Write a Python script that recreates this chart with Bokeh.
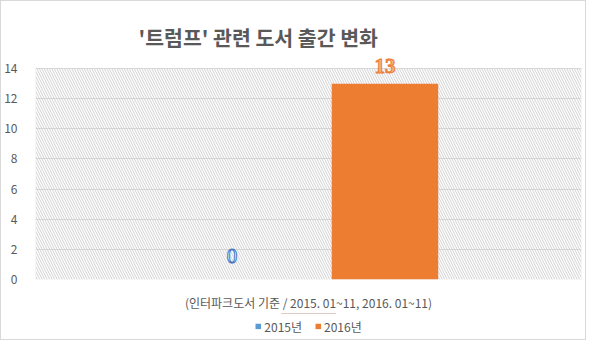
from bokeh.plotting import figure
from bokeh.layouts import column
from bokeh.models import (FactorRange, Legend, LegendItem, BoxAnnotation, ColumnDataSource,
                          FixedTicker, LabelSet)
from bokeh.transform import dodge
from bokeh.embed import file_html
from bokeh.resources import INLINE

title = "'트럼프' 관련 도서 출간 변화"
category = ["(인터파크도서 기준 / 2015. 01~11, 2016. 01~11)"]
series_names = ["2015년", "2016년"]
values_2015 = [0]
values_2016 = [13]
y_ticks = [0, 2, 4, 6, 8, 10, 12, 14]

FONT = "Noto Sans CJK KR"
GRAY = "#595959"
BLUE = "#5b9bd5"
ORANGE = "#ed7d31"

src = ColumnDataSource(dict(cat=category, v15=values_2015, v16=values_2016,
                            l15=[str(v) for v in values_2015],
                            l16=[str(v) for v in values_2016]))

y_max = y_ticks[-1]

p = figure(width=584, height=312, x_range=FactorRange(*category), y_range=(0, y_max + 1),
           output_backend="svg", toolbar_location=None, title=title,
           min_border_left=29, min_border_right=4, min_border_top=52, min_border_bottom=30)

p.title.align = "left"
p.title.offset = 103
p.title.text_font = FONT
p.title.text_font_size = "20.5px"
p.title.text_font_style = "bold"
p.title.text_color = GRAY
p.title.standoff = 4

p.outline_line_color = None
p.background_fill_color = "white"
p.border_fill_color = "white"

hatch = BoxAnnotation(bottom=0, top=y_max, fill_color=None, line_color="#d9d9d9", line_width=1,
                      hatch_pattern="\\", hatch_color="#cccccc", hatch_scale=5, hatch_weight=0.9,
                      level="underlay")
p.add_layout(hatch)

p.ygrid.grid_line_color = "#d9d9d9"
p.ygrid.grid_line_width = 1
p.xgrid.grid_line_color = None

r15 = p.vbar(x=dodge("cat", -0.14, range=p.x_range), top="v15", width=0.195,
             source=src, fill_color=BLUE, line_color=None)
r16 = p.vbar(x=dodge("cat", 0.14, range=p.x_range), top="v16", width=0.195,
             source=src, fill_color=ORANGE, line_color=None)

lab15 = LabelSet(x=dodge("cat", -0.14, range=p.x_range), y="v15", text="l15", source=src,
                 text_align="center", text_baseline="bottom", y_offset=17,
                 text_font="DejaVu Serif", text_font_size="21px",
                 text_color="white", text_outline_color="#4472c4")
lab16 = LabelSet(x=dodge("cat", 0.14, range=p.x_range), y="v16", text="l16", source=src,
                 text_align="center", text_baseline="bottom", y_offset=11,
                 text_font="DejaVu Serif", text_font_size="21px", text_font_style="bold",
                 text_color="#f4b183", text_outline_color=ORANGE)
p.add_layout(lab15)
p.add_layout(lab16)

p.yaxis.ticker = FixedTicker(ticks=y_ticks)
p.yaxis.axis_line_color = None
p.yaxis.major_tick_line_color = None
p.yaxis.minor_tick_line_color = None
p.yaxis.major_label_text_font = FONT
p.yaxis.major_label_text_font_size = "12px"
p.yaxis.major_label_text_color = GRAY
p.yaxis.major_label_standoff = 12

p.xaxis.axis_line_color = None
p.xaxis.major_tick_line_color = None
p.xaxis.minor_tick_line_color = None
p.xaxis.major_label_text_font = FONT
p.xaxis.major_label_text_font_size = "12px"
p.xaxis.major_label_text_color = GRAY
p.xaxis.major_label_standoff = 8

# legend strip (bars drawn below its visible range; only the legend shows)
leg_fig = figure(width=584, height=26, x_range=FactorRange(*category), y_range=(-2, -1),
                 output_backend="svg", toolbar_location=None,
                 min_border=0, outline_line_color=None)
leg_fig.axis.visible = False
leg_fig.grid.visible = False
e15 = leg_fig.vbar(x="cat", top="v15", width=0.1, source=src, fill_color=BLUE, line_color=None)
e16 = leg_fig.vbar(x="cat", top="v16", width=0.1, source=src, fill_color=ORANGE, line_color=None)
legend = Legend(items=[LegendItem(label=series_names[0], renderers=[e15]),
                       LegendItem(label=series_names[1], renderers=[e16])],
                orientation="horizontal", location="center",
                label_text_font=FONT, label_text_font_size="12px", label_text_color=GRAY,
                glyph_width=7, glyph_height=7, spacing=12, label_standoff=3,
                border_line_color=None, background_fill_alpha=0, padding=0, margin=0)
leg_fig.add_layout(legend)

layout = column(p, leg_fig, spacing=0, styles={"border": "1px solid #d9d9d9"})

open("out.html", "w").write(file_html(layout, INLINE))
